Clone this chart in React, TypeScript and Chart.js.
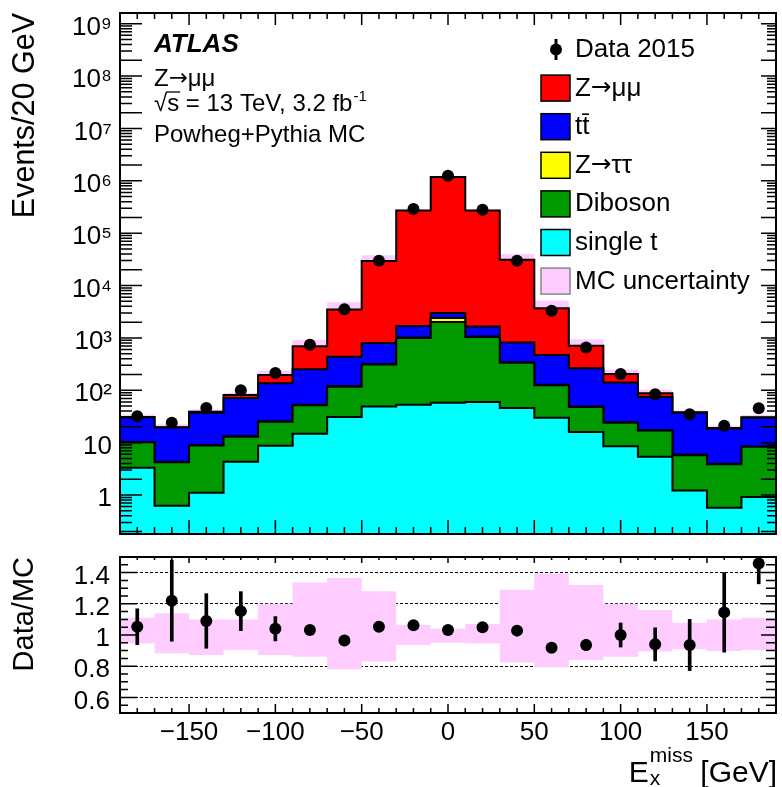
import React, { useEffect, useRef } from "react";
import { Chart, registerables } from "chart.js";

Chart.register(...registerables);

const FONT = "'Liberation Sans', Arial, Helvetica, sans-serif";
const ARROW_FONT = "'DejaVu Sans', sans-serif";

// E_x^miss bins: 20 GeV wide, centres from -180 to 180 GeV
const binCenters = [-180, -160, -140, -120, -100, -80, -60, -40, -20, 0, 20, 40, 60, 80, 100, 120, 140, 160, 180];
const BIN_WIDTH = 20;
const X_MIN = -190;
const X_MAX = 190;

// Expected events per bin, one array per process
const singleTop = [3.3, 0.62, 1.1, 4.3, 8.7, 14.7, 31, 49, 53, 58, 60, 46, 30, 16, 8.5, 5.4, 1.22, 0.57, 0.92];
const diboson = [6.9, 3.6, 7.7, 8.7, 16.3, 37, 86, 261, 947, 1962, 985, 288, 95, 32, 15.5, 11.6, 4.5, 3.3, 7.4];
const zTauTau = [0.1, 0.1, 0.2, 0.3, 0.5, 1, 3, 8, 20, 380, 20, 8, 3, 1, 0.5, 0.3, 0.2, 0.1, 0.1];
const ttbar = [20.3, 15.1, 28.4, 57.7, 110.5, 199, 317, 477, 660, 590, 585, 473, 345, 215, 116.5, 56.7, 31.1, 14.6, 21.6];
const zMuMu = [0.3, 0.3, 1.5, 10, 60, 438, 3063, 28700, 268000, 1177000, 268000, 30200, 3227, 446, 64, 14, 1, 0.5, 0.5];

// Observed events (Data 2015)
const dataCounts = [32, 24, 46, 100, 213, 740, 3540, 29600, 288000, 1250000, 280000, 29600, 3300, 653, 205, 84, 35, 21, 45.5];

// Data/MC ratio with statistical error
const ratioValues = [1.053, 1.22, 1.09, 1.153, 1.04, 1.032, 0.964, 1.053, 1.062, 1.032, 1.049, 1.028, 0.919, 0.936, 1.0, 0.94, 0.936, 1.145, 1.458];
const ratioErrors = [0.115, 0.26, 0.175, 0.125, 0.078, 0.03, 0.015, 0.01, 0.005, 0.002, 0.005, 0.01, 0.02, 0.035, 0.077, 0.106, 0.164, 0.255, 0.13];

// Relative MC uncertainty band (upper and lower edges)
const mcUncHigh = [1.11, 1.14, 1.1, 1.1, 1.2, 1.337, 1.366, 1.28, 1.064, 1.04, 1.07, 1.29, 1.394, 1.32, 1.2, 1.16, 1.079, 1.1, 1.11];
const mcUncLow = [0.947, 0.883, 0.872, 0.904, 0.872, 0.861, 0.78, 0.83, 0.936, 0.95, 0.947, 0.823, 0.794, 0.84, 0.861, 0.894, 0.909, 0.898, 0.904];

// Axis label positions
const logTickValues = [1, 10, 1e2, 1e3, 1e4, 1e5, 1e6, 1e7, 1e8, 1e9];
const ratioTickValues = [0.6, 0.8, 1, 1.2, 1.4];
const xTickValues = [-150, -100, -50, 0, 50, 100, 150];

// Legend / colours (stack order: top to bottom)
const processLabels = ["Z\u2192\u03bc\u03bc", "tt\u0304", "Z\u2192\u03c4\u03c4", "Diboson", "single t"];
const processColors = ["#ff0000", "#0000ff", "#ffff00", "#009900", "#00ffff"];
const UNC_COLOR = "#ffccff";

const SUPERSCRIPT: Record<string, string> = {
  "0": "\u2070", "1": "\u00b9", "2": "\u00b2", "3": "\u00b3", "4": "\u2074",
  "5": "\u2075", "6": "\u2076", "7": "\u2077", "8": "\u2078", "9": "\u2079",
};

function decadeLabel(v: number): string {
  const e = Math.round(Math.log10(v));
  if (e === 0) return "1";
  if (e === 1) return "10";
  return "10" + String(e).split("").map((c) => SUPERSCRIPT[c]).join("");
}

function cumulate(...layers: number[][]): number[] {
  return binCenters.map((_, i) => layers.reduce((s, l) => s + l[i], 0));
}

// Step outline points: one point at each bin's left edge, plus the last right edge
function steps(values: number[]) {
  const pts = values.map((v, i) => ({ x: binCenters[i] - BIN_WIDTH / 2, y: v }));
  pts.push({ x: binCenters[binCenters.length - 1] + BIN_WIDTH / 2, y: values[values.length - 1] });
  return pts;
}

// Draws a label, rendering the arrow glyph with a font that has a long arrow
function drawLabel(ctx: CanvasRenderingContext2D, text: string, x: number, y: number, size: number) {
  const parts = text.split("\u2192");
  let cx = x;
  parts.forEach((p, i) => {
    if (i > 0) {
      ctx.font = `${size * 0.95}px ${ARROW_FONT}`;
      ctx.fillText("\u2192", cx, y - 1);
      cx += ctx.measureText("\u2192").width;
    }
    ctx.font = `${size}px ${FONT}`;
    ctx.fillText(p, cx, y);
    cx += ctx.measureText(p).width;
  });
}

type TickSpec = { value: number; len: number };
type FrameSpec = { top: TickSpec[]; bottom: TickSpec[]; left: TickSpec[]; right: TickSpec[] };

function framePlugin(id: string, spec: FrameSpec) {
  return {
    id,
    afterDraw(chart: any) {
      const { ctx, chartArea: a, scales } = chart;
      const xs = scales.x;
      const ys = scales.y;
      ctx.save();
      ctx.strokeStyle = "#000";
      ctx.lineWidth = 1.5;
      ctx.beginPath();
      for (const t of spec.bottom) {
        const px = xs.getPixelForValue(t.value);
        ctx.moveTo(px, a.bottom);
        ctx.lineTo(px, a.bottom - t.len);
      }
      for (const t of spec.top) {
        const px = xs.getPixelForValue(t.value);
        ctx.moveTo(px, a.top);
        ctx.lineTo(px, a.top + t.len);
      }
      for (const t of spec.left) {
        const py = ys.getPixelForValue(t.value);
        if (py < a.top || py > a.bottom) continue;
        ctx.moveTo(a.left, py);
        ctx.lineTo(a.left + t.len, py);
      }
      for (const t of spec.right) {
        const py = ys.getPixelForValue(t.value);
        if (py < a.top || py > a.bottom) continue;
        ctx.moveTo(a.right, py);
        ctx.lineTo(a.right - t.len, py);
      }
      ctx.stroke();
      ctx.lineWidth = 2;
      ctx.strokeRect(a.left, a.top, a.right - a.left, a.bottom - a.top);
      ctx.restore();
    },
  };
}

function linearTicks(from: number, to: number, step: number, origin: number, majorStep: number, major: number, minor: number): TickSpec[] {
  const out: TickSpec[] = [];
  const n = Math.round((to - from) / step);
  for (let k = 0; k <= n; k++) {
    const v = +(from + k * step).toFixed(6);
    const q = (v - origin) / majorStep;
    const isMajor = Math.abs(q - Math.round(q)) < 1e-6;
    out.push({ value: v, len: isMajor ? major : minor });
  }
  return out;
}

function logTicks(major: number, minor: number): TickSpec[] {
  const out: TickSpec[] = [];
  for (let e = -1; e <= 9; e++) {
    for (let m = 1; m <= 9; m++) {
      const v = m * Math.pow(10, e);
      out.push({ value: v, len: m === 1 || m === 2 ? major : minor });
    }
  }
  return out;
}

const atlasTextPlugin = {
  id: "atlasText",
  afterDraw(chart: any) {
    const ctx = chart.ctx as CanvasRenderingContext2D;
    ctx.save();
    ctx.fillStyle = "#000";
    ctx.strokeStyle = "#000";
    ctx.textAlign = "left";
    ctx.textBaseline = "alphabetic";
    const x0 = 154;
    ctx.font = `italic bold 26px ${FONT}`;
    ctx.fillText("ATLAS", x0, 52);
    drawLabel(ctx, "Z\u2192\u03bc\u03bc", x0, 86, 24);
    // sqrt(s) line with an overbar on the s
    ctx.font = `24px ${FONT}`;
    const base = 111;
    const wRoot = ctx.measureText("\u221a").width;
    const wS = ctx.measureText("s").width;
    ctx.fillText("\u221a", x0, base);
    ctx.fillText("s", x0 + wRoot, base);
    ctx.lineWidth = 1.3;
    ctx.beginPath();
    ctx.moveTo(x0 + wRoot - 1, base - 19);
    ctx.lineTo(x0 + wRoot + wS + 1, base - 19);
    ctx.stroke();
    const rest = " = 13 TeV, 3.2 fb";
    ctx.fillText(rest, x0 + wRoot + wS, base);
    const wRest = ctx.measureText(rest).width;
    ctx.font = `15px ${FONT}`;
    ctx.fillText("-1", x0 + wRoot + wS + wRest + 1, base - 10);
    ctx.font = `24px ${FONT}`;
    ctx.fillText("Powheg+Pythia MC", x0, 142);

    // Legend
    const textX = 575;
    const boxX = 541;
    const rowStep = 38.6;
    const firstBase = 57;
    ctx.font = `26px ${FONT}`;
    ctx.fillText("Data 2015", textX, firstBase);
    ctx.lineWidth = 3;
    ctx.beginPath();
    ctx.moveTo(556, 39);
    ctx.lineTo(556, 60);
    ctx.stroke();
    ctx.beginPath();
    ctx.arc(556, 49.5, 6, 0, Math.PI * 2);
    ctx.fill();
    const entries = processLabels.map((label, i) => ({ label, color: processColors[i], border: "#000" }));
    entries.push({ label: "MC uncertainty", color: UNC_COLOR, border: "#888" });
    entries.forEach((e, i) => {
      const b = firstBase + rowStep * (i + 1);
      ctx.fillStyle = e.color;
      ctx.fillRect(boxX, b - 20.5, 29, 26);
      ctx.strokeStyle = e.border;
      ctx.lineWidth = 1.5;
      ctx.strokeRect(boxX, b - 20.5, 29, 26);
      ctx.fillStyle = "#000";
      drawLabel(ctx, e.label, textX, b, 26);
    });
    ctx.restore();
  },
};

const xTitlePlugin = {
  id: "xTitle",
  afterDraw(chart: any) {
    const ctx = chart.ctx as CanvasRenderingContext2D;
    ctx.save();
    ctx.fillStyle = "#000";
    ctx.textBaseline = "alphabetic";
    ctx.textAlign = "left";
    const big = `30px ${FONT}`;
    const small = `21px ${FONT}`;
    ctx.font = big;
    const wE = ctx.measureText("E").width;
    const wRest = ctx.measureText(" [GeV]").width;
    ctx.font = small;
    const wSup = ctx.measureText("miss").width;
    const wSub = ctx.measureText("x").width;
    const right = 777;
    const base = 237;
    const x0 = right - (wE + Math.max(wSup, wSub) + wRest);
    ctx.font = big;
    ctx.fillText("E", x0, base);
    ctx.fillText(" [GeV]", x0 + wE + Math.max(wSup, wSub), base);
    ctx.font = small;
    ctx.fillText("miss", x0 + wE + 1, base - 20);
    ctx.fillText("x", x0 + wE + 1, base + 3);
    ctx.restore();
  },
};

function zeroPadding(s: any) {
  s.paddingTop = 0;
  s.paddingBottom = 0;
  s.paddingLeft = 0;
  s.paddingRight = 0;
}

export default function App() {
  const topRef = useRef<HTMLCanvasElement>(null);
  const bottomRef = useRef<HTMLCanvasElement>(null);

  useEffect(() => {
    const lvlSingle = cumulate(singleTop);
    const lvlDiboson = cumulate(singleTop, diboson);
    const lvlZtt = cumulate(singleTop, diboson, zTauTau);
    const lvlTtbar = cumulate(singleTop, diboson, zTauTau, ttbar);
    const lvlZmm = cumulate(singleTop, diboson, zTauTau, ttbar, zMuMu);
    const bandTop = lvlZmm.map((v, i) => v * mcUncHigh[i]);

    const stepSet = (label: string, values: number[], color: string, order: number, border = 2) => ({
      type: "line" as const,
      label,
      data: steps(values),
      stepped: true,
      fill: "start",
      backgroundColor: color,
      borderColor: "#000",
      borderWidth: border,
      pointRadius: 0,
      tension: 0,
      order,
    });

    const commonOpts = {
      responsive: true,
      maintainAspectRatio: false,
      animation: false as const,
      events: [] as any[],
      plugins: { legend: { display: false }, tooltip: { enabled: false } },
    };

    const top = new Chart(topRef.current as HTMLCanvasElement, {
      type: "line",
      data: {
        datasets: [
          {
            type: "line",
            label: "Data 2015",
            data: binCenters.map((x, i) => ({ x, y: dataCounts[i] })),
            showLine: false,
            pointRadius: 6,
            pointBackgroundColor: "#000",
            pointBorderWidth: 0,
            order: 0,
          },
          stepSet(processLabels[4], lvlSingle, processColors[4], 5),
          stepSet(processLabels[3], lvlDiboson, processColors[3], 6),
          stepSet(processLabels[2], lvlZtt, processColors[2], 7),
          stepSet(processLabels[1], lvlTtbar, processColors[1], 8),
          stepSet(processLabels[0], lvlZmm, processColors[0], 9),
          stepSet("MC uncertainty", bandTop, UNC_COLOR, 10, 0),
        ] as any,
      },
      options: {
        ...commonOpts,
        layout: { padding: { top: 13, right: 3, bottom: 11, left: 0 } },
        scales: {
          x: { type: "linear", min: X_MIN, max: X_MAX, display: false },
          y: {
            type: "logarithmic",
            min: 0.18,
            max: 1.6e9,
            afterBuildTicks: (s: any) => {
              s.ticks = logTickValues.map((value) => ({ value }));
            },
            afterFit: (s: any) => {
              s.width = 120;
              zeroPadding(s);
            },
            ticks: {
              callback: (v: any) => decadeLabel(Number(v)),
              font: { family: FONT, size: 26 },
              color: "#000",
              padding: 8,
              labelOffset: 4,
              autoSkip: false,
            },
            grid: { display: false, drawTicks: false },
            border: { display: false },
            title: {
              display: true,
              text: "Events/20 GeV",
              align: "end",
              color: "#000",
              font: { family: FONT, size: 30.5 },
              padding: { top: 7, bottom: 0 },
            },
          },
        },
      } as any,
      plugins: [
        framePlugin("topFrame", {
          top: linearTicks(-180, 180, 10, 0, 50, 12, 6),
          bottom: linearTicks(-180, 180, 10, 0, 50, 14, 7),
          left: logTicks(22, 12),
          right: logTicks(15, 9),
        }),
        atlasTextPlugin,
      ],
    });

    const bottom = new Chart(bottomRef.current as HTMLCanvasElement, {
      type: "line",
      data: {
        datasets: [
          {
            type: "line",
            label: "Data/MC",
            data: binCenters.map((x, i) => ({ x, y: ratioValues[i] })),
            showLine: false,
            pointRadius: 6,
            pointBackgroundColor: "#000",
            pointBorderWidth: 0,
            order: 0,
          },
          {
            type: "bar",
            label: "Data/MC error",
            data: binCenters.map((x, i) => ({ x, y: [ratioValues[i] - ratioErrors[i], ratioValues[i] + ratioErrors[i]] })),
            backgroundColor: "#000",
            barThickness: 3,
            grouped: false,
            borderWidth: 0,
            order: 1,
          },
          {
            type: "line",
            label: "MC uncertainty",
            data: steps(mcUncHigh),
            stepped: true,
            fill: "+1",
            backgroundColor: UNC_COLOR,
            borderWidth: 0,
            pointRadius: 0,
            order: 10,
          },
          {
            type: "line",
            label: "MC uncertainty low",
            data: steps(mcUncLow),
            stepped: true,
            fill: false,
            borderWidth: 0,
            pointRadius: 0,
            order: 11,
          },
        ] as any,
      },
      options: {
        ...commonOpts,
        layout: { padding: { top: 12, right: 3, bottom: 0, left: 0 } },
        scales: {
          x: {
            type: "linear",
            min: X_MIN,
            max: X_MAX,
            offset: false,
            afterBuildTicks: (s: any) => {
              s.ticks = xTickValues.map((value) => ({ value }));
            },
            afterFit: (s: any) => {
              s.height = 74;
              zeroPadding(s);
            },
            ticks: {
              callback: (v: any) => (Number(v) < 0 ? "\u2212" + Math.abs(Number(v)) : String(v)),
              font: { family: FONT, size: 26 },
              color: "#000",
              padding: 4,
              maxRotation: 0,
              autoSkip: false,
            },
            grid: { display: false, drawTicks: false },
            border: { display: false },
          },
          y: {
            type: "linear",
            min: 0.5,
            max: 1.5,
            z: 1,
            afterBuildTicks: (s: any) => {
              s.ticks = ratioTickValues.map((value) => ({ value }));
            },
            afterFit: (s: any) => {
              s.width = 120;
              zeroPadding(s);
            },
            ticks: {
              callback: (v: any) => String(v),
              font: { family: FONT, size: 26 },
              color: "#000",
              padding: 10,
              labelOffset: 4,
              autoSkip: false,
            },
            grid: { display: true, drawOnChartArea: true, drawTicks: false, color: "#000", lineWidth: 1 },
            border: { display: false, dash: [3, 2] },
            title: {
              display: true,
              text: "Data/MC",
              align: "end",
              color: "#000",
              font: { family: FONT, size: 29 },
              padding: { top: 8, bottom: 0 },
            },
          },
        },
      } as any,
      plugins: [
        framePlugin("ratioFrame", {
          top: linearTicks(-180, 180, 10, 0, 50, 6, 3),
          bottom: linearTicks(-180, 180, 10, 0, 50, 9, 5),
          left: linearTicks(0.55, 1.45, 0.05, 0.6, 0.2, 17, 8),
          right: linearTicks(0.55, 1.45, 0.05, 0.6, 0.2, 15, 10),
        }),
        xTitlePlugin,
      ],
    });

    return () => {
      top.destroy();
      bottom.destroy();
    };
  }, []);

  return (
    <div style={{ position: "absolute", left: 0, top: 0, width: 782, height: 787, background: "#fff" }}>
      <div style={{ position: "absolute", left: 0, top: 0, width: 782, height: 545 }}>
        <canvas ref={topRef} />
      </div>
      <div style={{ position: "absolute", left: 0, top: 545, width: 782, height: 242 }}>
        <canvas ref={bottomRef} />
      </div>
    </div>
  );
}
